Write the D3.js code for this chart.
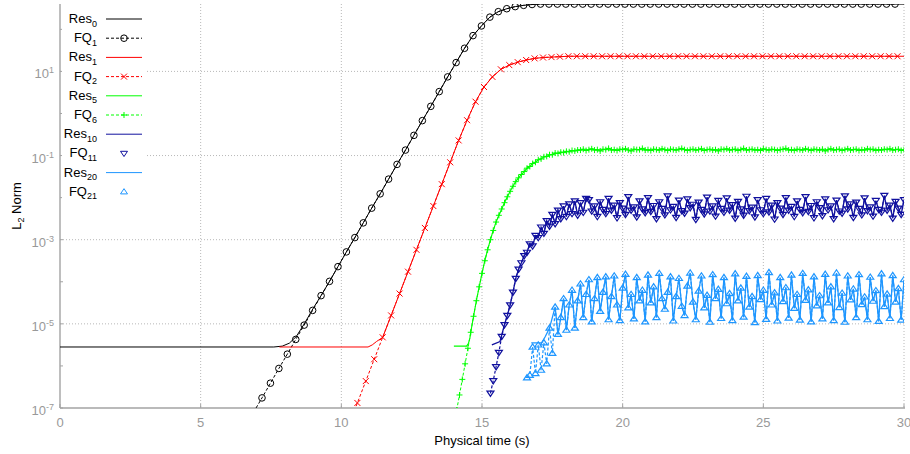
<!DOCTYPE html>
<html>
<head>
<meta charset="utf-8">
<script src="https://cdn.jsdelivr.net/npm/d3@7"></script>
<style>
  body { margin: 0; background: #fff; }
  svg { display: block; font-family: "Liberation Sans", Arial, sans-serif; }
</style>
</head>
<body>
<svg id="chart" width="910" height="454"></svg>
<script>
const xTicks = [0, 5, 10, 15, 20, 25, 30];
const yMajorExp = [-7, -5, -3, -1, 1];
const yMinorExp = [-6, -4, -2, 0, 2];

const legendNames = ["Res", "FQ", "Res", "FQ", "Res", "FQ", "Res", "FQ", "Res", "FQ"];
const legendSubs = ["0", "1", "1", "2", "5", "6", "10", "11", "20", "21"];

// FQ series are log10(L2 norm), sampled every *Step seconds from *Start
const fq1Start = 6.88, fq1Step = 0.3;
const fq1Log = [
  -7.10, -6.76, -6.41, -6.06, -5.72, -5.37, -5.03, -4.68, -4.33, -3.99,
  -3.64, -3.29, -2.95, -2.60, -2.25, -1.91, -1.56, -1.21, -0.87, -0.52,
  -0.17, 0.17, 0.52, 0.87, 1.21, 1.55, 1.85, 2.08, 2.29, 2.42,
  2.49, 2.54, 2.57, 2.59,
  2.6, 2.6, 2.6, 2.6, 2.6, 2.6, 2.6, 2.6, 2.6, 2.6,
  2.6, 2.6, 2.6, 2.6, 2.6, 2.6, 2.6, 2.6, 2.6, 2.6,
  2.6, 2.6, 2.6, 2.6, 2.6, 2.6, 2.6, 2.6, 2.6, 2.6,
  2.6, 2.6, 2.6, 2.6, 2.6, 2.6, 2.6, 2.6, 2.6, 2.6,
  2.6, 2.6, 2.6
];

const fq2Start = 10.27, fq2Step = 0.3;
const fq2Log = [
  -7.40, -6.88, -6.36, -5.84, -5.32, -4.80, -4.28, -3.76, -3.24, -2.72,
  -2.20, -1.68, -1.16, -0.64, -0.16, 0.28, 0.63, 0.87, 1.05, 1.15,
  1.22, 1.27, 1.31, 1.33, 1.34, 1.35,
  1.36, 1.36, 1.36, 1.36, 1.36, 1.36, 1.36, 1.36, 1.36, 1.36,
  1.36, 1.36, 1.36, 1.36, 1.36, 1.36, 1.36, 1.36, 1.36, 1.36,
  1.36, 1.36, 1.36, 1.36, 1.36, 1.36, 1.36, 1.36, 1.36, 1.36,
  1.36, 1.36, 1.36, 1.36, 1.36, 1.36, 1.36, 1.36, 1.36, 1.36
];

const fq6Start = 14.1, fq6Step = 0.1;
const fq6Log = [
  -7.05, -6.69, -6.32, -5.95, -5.58, -5.20, -4.82, -4.45, -4.12, -3.80,
  -3.50, -3.24, -3.00, -2.78, -2.58, -2.42, -2.27, -2.12, -1.98, -1.85,
  -1.73, -1.62, -1.53, -1.45, -1.38, -1.30, -1.26, -1.19, -1.16, -1.10,
  -1.08, -1.03, -1.02, -0.98, -0.98, -0.94, -0.95, -0.92, -0.93, -0.90,
  -0.91, -0.88, -0.89, -0.87, -0.87,
  -0.85, -0.88, -0.86, -0.84, -0.87, -0.86, -0.89, -0.85, -0.86, -0.83,
  -0.87, -0.86, -0.88, -0.85, -0.86, -0.84, -0.87, -0.89, -0.85, -0.86,
  -0.86, -0.83, -0.87, -0.86, -0.88, -0.85, -0.86, -0.87, -0.84, -0.86,
  -0.88, -0.85, -0.86, -0.87, -0.85, -0.83, -0.86, -0.88, -0.86, -0.85,
  -0.87, -0.86, -0.84, -0.88, -0.86, -0.85, -0.87, -0.86, -0.89, -0.85,
  -0.86, -0.84, -0.87, -0.86, -0.85, -0.88, -0.86, -0.83, -0.87, -0.86,
  -0.85, -0.87, -0.86, -0.88, -0.84, -0.86, -0.87, -0.85, -0.86, -0.88,
  -0.86, -0.85, -0.83, -0.87, -0.86, -0.88, -0.85, -0.86, -0.87, -0.84,
  -0.86, -0.88, -0.85, -0.86, -0.87, -0.85, -0.89, -0.86, -0.84, -0.87,
  -0.86, -0.85, -0.88, -0.86, -0.84, -0.87, -0.86, -0.85, -0.88, -0.86,
  -0.87, -0.84, -0.86, -0.85, -0.88, -0.86, -0.87, -0.85, -0.86, -0.84,
  -0.87, -0.86, -0.85, -0.88, -0.86
];

const fq11Start = 15.3, fq11Step = 0.1;
const fq11Log = [
  -6.65, -6.35, -6.02, -5.68, -5.30, -5.02, -4.80, -4.55, -4.25, -3.92,
  -3.70, -3.55, -3.38, -3.30, -3.10, -3.15, -2.90, -2.95, -2.70, -2.85,
  -2.55, -2.68, -2.40, -2.62, -2.30, -2.50, -2.20, -2.45, -2.15, -2.38,
  -2.08, -2.42, -2.12, -2.35, -2.02,
  -2.05, -2.32, -2.20, -2.45, -2.10, -2.28, -2.38, -2.02,
  -2.30, -2.18, -2.48, -2.12, -2.25, -2.40, -1.98, -2.30,
  -2.22, -2.46, -2.08, -2.27, -2.36, -2.00, -2.33, -2.19,
  -2.50, -2.10, -2.26, -2.41, -1.96, -2.29, -2.21, -2.47,
  -2.06, -2.31, -2.37, -2.03, -2.24, -2.16, -2.52, -2.11,
  -2.28, -2.39, -1.99, -2.32, -2.20, -2.44, -2.07, -2.26,
  -2.35, -2.01, -2.30, -2.17, -2.49, -2.09, -2.27, -2.42,
  -1.97, -2.31, -2.23, -2.46, -2.05, -2.29, -2.38, -2.02,
  -2.34, -2.18, -2.51, -2.12, -2.25, -2.40, -2.00, -2.30,
  -2.21, -2.45, -2.08, -2.28, -2.36, -1.98, -2.33, -2.19,
  -2.48, -2.10, -2.24, -2.43, -2.03, -2.29, -2.20, -2.50,
  -2.06, -2.32, -2.37, -1.96, -2.27, -2.15, -2.47, -2.11,
  -2.26, -2.41, -2.01, -2.31, -2.22, -2.44, -2.07, -2.28,
  -2.35, -1.95, -2.30, -2.18, -2.49, -2.09, -2.25, -2.40,
  -2.05
];

const fq21Start = 16.6, fq21Step = 0.1;
const fq21Log = [
  -6.28, -6.22, -5.55, -6.18, -5.50, -6.10, -5.45, -5.95, -5.10, -5.70,
  -4.60, -5.25, -4.85, -4.40, -5.15, -4.55, -4.20, -5.10, -4.45, -4.05,
  -4.85, -4.30, -3.95, -4.95, -4.40, -3.90, -4.70, -4.25, -3.88, -4.90,
  -4.35, -3.86, -4.55, -4.92, -4.15, -3.82, -4.62, -4.30,
  -4.88, -3.90, -4.45, -4.20, -4.95, -3.84, -4.50, -4.12,
  -4.85, -3.80, -4.40, -4.65, -4.25, -3.88, -4.93, -4.35,
  -3.92, -4.58, -4.80, -4.10, -3.79, -4.48, -4.90, -4.22,
  -3.86, -4.62, -4.32, -4.96, -3.83, -4.40, -4.18, -4.87,
  -3.90, -4.52, -4.28, -4.92, -3.81, -4.45, -4.15, -4.84,
  -3.87, -4.60, -4.35, -4.97, -3.85, -4.42, -4.20, -4.89,
  -3.78, -4.55, -4.26, -4.93, -3.90, -4.47, -4.14, -4.86,
  -3.84, -4.63, -4.30, -4.91, -3.80, -4.44, -4.19, -4.95,
  -3.88, -4.57, -4.33, -4.88, -3.82, -4.50, -4.12, -4.92,
  -3.79, -4.61, -4.27, -4.96, -3.86, -4.43, -4.17, -4.85,
  -3.83, -4.54, -4.36, -4.90, -3.89, -4.46, -4.21, -4.94,
  -3.81, -4.59, -4.29, -4.87, -3.85, -4.48, -4.16, -4.91,
  -3.95
];

// Res series: [time, log10 norm] before they join their FQ series
const res0Head = [[0, -5.55], [7.6, -5.55], [7.9, -5.53], [8.15, -5.46], [8.4, -5.30], [8.7, -4.98], [9.0, -4.63]];
const res0Tail = [[30, 2.6]];
const res1Head = [[7.8, -5.55], [10.95, -5.55], [11.1, -5.5], [11.25, -5.42]];
const res1Tail = [[30, 1.36]];
const res5Head = [[14.0, -5.53], [14.45, -5.53], [14.52, -5.46], [14.57, -5.34]];
const res10Head = [[15.35, -5.50], [15.64, -5.42]];
const res20Head = [[16.75, -5.45], [17.12, -5.45], [17.25, -5.30], [17.4, -5.10]];

const sampled = (start, step, logs) =>
  logs.map((v, i) => ({ t: +(start + i * step).toFixed(2), v: Math.pow(10, v) }));
const pairs = arr => arr.map(([t, v]) => ({ t, v: Math.pow(10, v) }));

const fq1 = sampled(fq1Start, fq1Step, fq1Log);
const fq2 = sampled(fq2Start, fq2Step, fq2Log);
const fq6 = sampled(fq6Start, fq6Step, fq6Log);
const fq11 = sampled(fq11Start, fq11Step, fq11Log);
const fq21 = sampled(fq21Start, fq21Step, fq21Log);

const res0 = pairs(res0Head).concat(fq1.filter(d => d.t > 9.2), pairs(res0Tail));
const res1 = pairs(res1Head).concat(fq2.filter(d => d.t > 11.4), pairs(res1Tail));
const res5 = pairs(res5Head).concat(fq6.filter(d => d.t > 14.55));
const res10 = pairs(res10Head).concat(fq11.filter(d => d.t > 15.7));
const res20 = pairs(res20Head).concat(fq21.filter(d => d.t > 17.55));

const BLACK = "#000000", RED = "#ff0000", GREEN = "#00ff00", NAVY = "#10109e", SKY = "#1e96ff";

const markerShapes = {
  circle: r => `M${-r},0a${r},${r} 0 1,0 ${2 * r},0a${r},${r} 0 1,0 ${-2 * r},0`,
  times: r => `M${-r},${-r}L${r},${r}M${-r},${r}L${r},${-r}`,
  plus: r => `M${-r},0L${r},0M0,${-r}L0,${r}`,
  triDown: r => `M${-r},${-r * 0.6}L${r},${-r * 0.6}L0,${r * 0.9}Z`,
  triUp: r => `M${-r},${r * 0.6}L${r},${r * 0.6}L0,${-r * 0.9}Z`
};

const series = [
  { data: res0, color: BLACK, width: 1 },
  { data: fq1, color: BLACK, width: 1, dash: "3,2", marker: "circle", size: 3.3 },
  { data: res1, color: RED, width: 1 },
  { data: fq2, color: RED, width: 1, dash: "3,2", marker: "times", size: 3 },
  { data: res5, color: GREEN, width: 1.1 },
  { data: fq6, color: GREEN, width: 1, dash: "3,2", marker: "plus", size: 3 },
  { data: res10, color: NAVY, width: 1.3 },
  { data: fq11, color: NAVY, width: 1.2, dash: "3,2", marker: "triDown", size: 3.5, legendLine: false },
  { data: res20, color: SKY, width: 1.3 },
  { data: fq21, color: SKY, width: 1.2, dash: "3,2", marker: "triUp", size: 3.5, legendLine: false }
];

const plot = { left: 60, right: 904, top: 4, bottom: 408 };
const x = d3.scaleLinear().domain([0, 30]).range([plot.left, plot.right]);
const y = d3.scaleLog().domain([1e-7, 400]).range([plot.bottom, plot.top]);

const svg = d3.select("#chart");
const axisGrey = "#a3a3a3";

svg.append("defs").append("clipPath").attr("id", "clip")
  .append("rect")
  .attr("x", plot.left).attr("y", plot.top)
  .attr("width", plot.right - plot.left).attr("height", plot.bottom - plot.top);

// grid
const grid = svg.append("g").attr("stroke", "#b8b8b8").attr("stroke-dasharray", "1,2").attr("stroke-width", 1);
xTicks.filter(t => t > 0).forEach(t => {
  grid.append("line")
    .attr("x1", x(t)).attr("x2", x(t))
    .attr("y1", plot.top).attr("y2", plot.bottom);
});
yMajorExp.filter(e => e > -7).forEach(e => {
  grid.append("line")
    .attr("x1", plot.left).attr("x2", plot.right)
    .attr("y1", y(Math.pow(10, e))).attr("y2", y(Math.pow(10, e)));
});

// axes
const axes = svg.append("g").attr("stroke", axisGrey);
axes.append("line").attr("x1", plot.left).attr("x2", plot.right + 1)
  .attr("y1", plot.bottom).attr("y2", plot.bottom).attr("stroke-width", 1.6);
axes.append("line").attr("x1", plot.left).attr("x2", plot.left)
  .attr("y1", plot.top).attr("y2", plot.bottom).attr("stroke-width", 1.4);
xTicks.forEach(t => {
  axes.append("line").attr("x1", x(t)).attr("x2", x(t))
    .attr("y1", plot.bottom).attr("y2", plot.bottom - 4);
});
yMajorExp.concat(yMinorExp).forEach(e => {
  axes.append("line").attr("x1", plot.left).attr("x2", plot.left + 3)
    .attr("y1", y(Math.pow(10, e))).attr("y2", y(Math.pow(10, e)));
});

// tick labels
const tickText = svg.append("g").attr("fill", "#999999").attr("font-size", 13);
xTicks.forEach(t => {
  tickText.append("text")
    .attr("x", x(t)).attr("y", 427)
    .attr("text-anchor", "middle")
    .text(t);
});
yMajorExp.forEach(e => {
  const label = tickText.append("text")
    .attr("x", 54).attr("y", y(Math.pow(10, e)) + 7)
    .attr("text-anchor", "end");
  label.append("tspan").text("10");
  label.append("tspan").attr("font-size", 9).attr("dy", -5).text(e);
});

// axis titles
svg.append("text")
  .attr("x", 482).attr("y", 445)
  .attr("text-anchor", "middle").attr("font-size", 13)
  .text("Physical time (s)");
const yTitle = svg.append("text")
  .attr("transform", "translate(21,206) rotate(-90)")
  .attr("text-anchor", "middle").attr("font-size", 13);
yTitle.append("tspan").text("L");
yTitle.append("tspan").attr("font-size", 9).attr("dy", 3).text("2");
yTitle.append("tspan").attr("dy", -3).text(" Norm");

// data
const line = d3.line().x(d => x(d.t)).y(d => y(d.v));
const dataG = svg.append("g").attr("clip-path", "url(#clip)");

series.forEach(s => {
  dataG.append("path")
    .datum(s.data)
    .attr("fill", "none")
    .attr("stroke", s.color)
    .attr("stroke-width", s.width)
    .attr("stroke-dasharray", s.dash || null)
    .attr("d", line);
  if (s.marker) {
    dataG.append("g")
      .selectAll("path")
      .data(s.data)
      .join("path")
      .attr("transform", d => `translate(${x(d.t)},${y(d.v)})`)
      .attr("d", markerShapes[s.marker](s.size))
      .attr("fill", "none")
      .attr("stroke", s.color)
      .attr("stroke-width", s.width);
  }
});

// legend (opaque key)
const legend = svg.append("g");
legend.append("rect")
  .attr("x", 62).attr("y", 6).attr("width", 85).attr("height", 198)
  .attr("fill", "#fff");
series.forEach((s, i) => {
  const ry = 19 + i * 19.2;
  const label = legend.append("text")
    .attr("x", 97).attr("y", ry + 4)
    .attr("text-anchor", "end").attr("font-size", 13);
  label.append("tspan").text(legendNames[i]);
  label.append("tspan").attr("font-size", 9).attr("dy", 3.5).text(legendSubs[i]);
  if (s.legendLine !== false) {
    legend.append("line")
      .attr("x1", 106).attr("x2", 142).attr("y1", ry).attr("y2", ry)
      .attr("stroke", s.color).attr("stroke-width", 1)
      .attr("stroke-dasharray", s.dash || null);
  }
  if (s.marker) {
    legend.append("path")
      .attr("transform", `translate(124,${ry})`)
      .attr("d", markerShapes[s.marker](s.size))
      .attr("fill", "none").attr("stroke", s.color).attr("stroke-width", 1);
  }
});
</script>
</body>
</html>
